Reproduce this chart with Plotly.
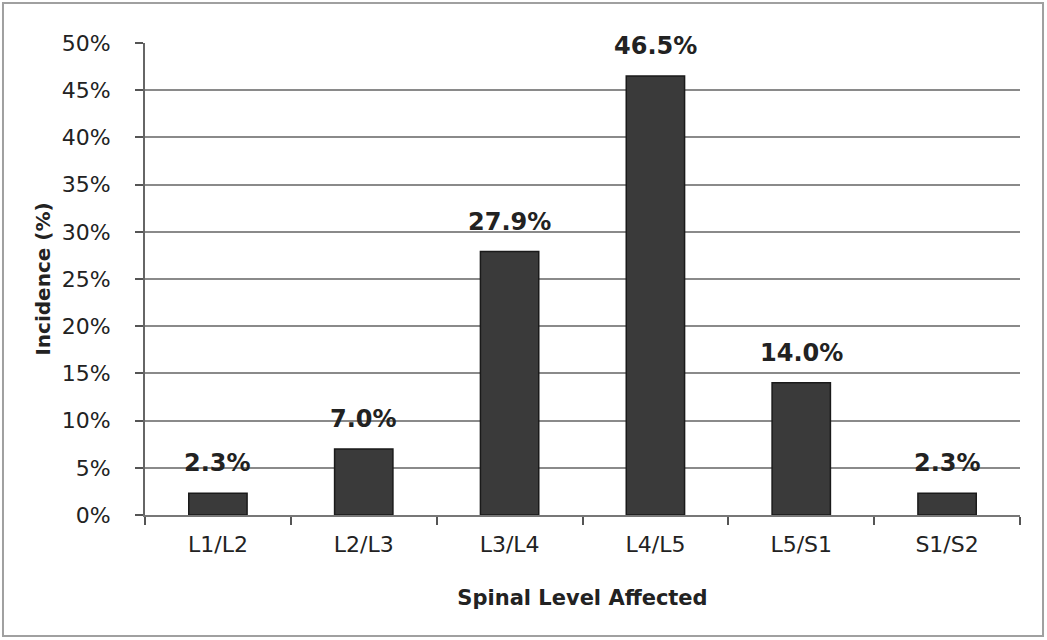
import plotly.graph_objects as go

categories = ["L1/L2", "L2/L3", "L3/L4", "L4/L5", "L5/S1", "S1/S2"]
incidence = [2.3, 7.0, 27.9, 46.5, 14.0, 2.3]
y_ticks = [0, 5, 10, 15, 20, 25, 30, 35, 40, 45, 50]
y_tick_labels = [f"{v}%" for v in y_ticks]
value_labels = [f"{v:.1f}%" for v in incidence]

FONT = "DejaVu Sans, Verdana, sans-serif"

fig = go.Figure()
fig.add_trace(go.Bar(
    x=categories, y=incidence,
    marker=dict(color="#3a3a3a", line=dict(color="#1a1a1a", width=1.5)),
    width=0.4,
    hoverinfo="skip",
))

for c, v, t in zip(categories, incidence, value_labels):
    fig.add_annotation(x=c, y=v, text=f"<b>{t}</b>", showarrow=False,
                       yanchor="middle", yshift=30,
                       font=dict(family=FONT, size=24, color="#222"))

fig.add_shape(type="rect", xref="paper", yref="paper",
              x0=-0.1623, x1=1.0263, y0=-0.2564, y1=1.0847,
              line=dict(color="#a0a0a0", width=2), layer="below")

fig.update_layout(
    width=1047, height=640,
    margin=dict(l=145, r=27, t=43, b=125),
    paper_bgcolor="white", plot_bgcolor="white",
    showlegend=False,
    font=dict(family=FONT, color="#222"),
    xaxis=dict(
        type="category",
        tickson="boundaries",
        ticks="outside", ticklen=8, tickcolor="#555", tickwidth=1.5,
        showline=True, linecolor="#777", linewidth=2,
        showgrid=False,
        tickfont=dict(size=22, family=FONT, color="#222"),
        ticklabelstandoff=9,
        title=dict(text="<b>Spinal Level Affected</b>", font=dict(size=21, family=FONT, color="#222"), standoff=34),
        range=[-0.5, 5.5],
    ),
    yaxis=dict(
        range=[0, 50],
        tickvals=y_ticks, ticktext=y_tick_labels,
        ticks="outside", ticklen=8, tickcolor="#555", tickwidth=1.5,
        showline=True, linecolor="#666", linewidth=2,
        showgrid=True, gridcolor="#8a8a8a", gridwidth=1.5,
        tickfont=dict(size=22, family=FONT, color="#222"),
        ticklabelstandoff=20,
        title=dict(text="<b>Incidence (%)</b>", font=dict(size=20, family=FONT, color="#222"), standoff=6),
        zeroline=False,
    ),
)

fig.write_html("out.html", config={"displayModeBar": False},
               post_script="document.body.style.margin='0';")
